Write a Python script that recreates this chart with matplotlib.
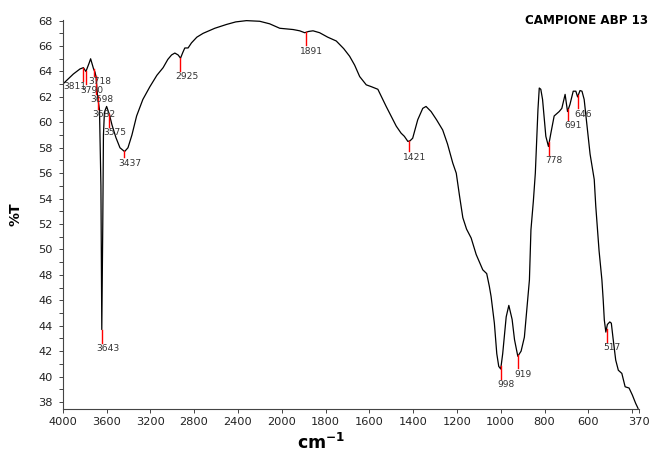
import numpy as np
import matplotlib
matplotlib.use("Agg")
import matplotlib.pyplot as plt
from matplotlib import font_manager
from matplotlib.ticker import MultipleLocator, FixedLocator

# spectrum: wavenumber (cm-1) and %T
wn = [4000, 3903, 3842, 3811, 3788, 3757, 3745, 3726, 3718, 3705, 3696, 3681,
      3664, 3651, 3643, 3634, 3628, 3619, 3599, 3573, 3550, 3514, 3477, 3435,
      3404, 3368, 3325, 3268, 3204, 3140, 3083, 3040, 3006, 2976, 2946, 2924,
      2903, 2885, 2855, 2824, 2775, 2718, 2611, 2504, 2420, 2322, 2201, 2110,
      2018, 1977, 1948, 1918, 1895, 1877, 1857, 1827, 1790, 1751, 1717, 1690,
      1667, 1644, 1614, 1590, 1561, 1523, 1477, 1455, 1440, 1424, 1414, 1402,
      1379, 1356, 1341, 1318, 1293, 1265, 1243, 1219, 1203, 1188, 1173, 1156,
      1135, 1112, 1082, 1064, 1052, 1044, 1029, 1018, 1009, 1000, 991, 975,
      963, 948, 937, 922, 907, 892, 877, 869, 862, 851, 842, 836, 830, 824,
      817, 809, 801, 794, 782, 771, 756, 733, 721, 706, 695, 684, 669, 657,
      649, 638, 629, 619, 604, 592, 573, 566, 551, 538, 532, 527, 520, 513,
      502, 495, 487, 475, 463, 447, 432, 414, 399, 384, 373]
trans = [63.0, 63.8, 64.2, 64.3, 64.0, 64.7, 65.0, 64.45, 64.2, 63.95, 63.6, 62.0,
         61.0, 55.0, 43.7, 52.0, 59.0, 60.8, 61.25, 60.6, 59.8, 58.8, 58.0, 57.7,
         58.0, 59.0, 60.5, 61.8, 62.8, 63.7, 64.3, 64.95, 65.3, 65.45, 65.3, 65.05,
         65.5, 65.85, 65.85, 66.25, 66.7, 67.0, 67.4, 67.7, 67.9, 68.0, 67.95, 67.75,
         67.4, 67.35, 67.3, 67.2, 67.05, 67.15, 67.2, 67.05, 66.7, 66.4, 65.8, 65.2,
         64.5, 63.6, 62.95, 62.8, 62.6, 61.25, 59.7, 59.15, 58.9, 58.5, 58.55, 58.75,
         60.2, 61.1, 61.25, 60.85, 60.2, 59.4, 58.3, 56.8, 56.0, 54.2, 52.5, 51.6,
         50.9, 49.6, 48.4, 48.1, 47.1, 46.3, 44.2, 41.8, 40.8, 40.6, 41.8, 44.7,
         45.6, 44.5, 42.9, 41.6, 42.0, 43.1, 46.0, 47.6, 51.55, 53.8, 56.0, 58.6, 61.0, 62.7,
         62.6, 61.8, 60.2, 58.9, 58.1, 59.15, 60.5, 60.85, 61.1, 62.2, 60.85, 61.4, 62.45, 62.45,
         62.0, 62.5, 62.45, 61.8, 59.4, 57.5, 55.5, 53.4, 49.9, 47.6, 46.0, 44.45, 43.5, 44.1,
         44.3, 44.2, 43.0, 41.3, 40.5, 40.25, 39.2, 39.1, 38.55, 37.9, 37.5]

# marked bands
peaks = [3811, 3790, 3718, 3698, 3682, 3643, 3575, 3437, 2925, 1891, 1421,
         998, 919, 778, 691, 646, 517]

xticks = [4000, 3600, 3200, 2800, 2400, 2000, 1800, 1600, 1400, 1200, 1000,
          800, 600, 400, 370]
xticklabels = ["4000", "3600", "3200", "2800", "2400", "2000", "1800", "1600",
               "1400", "1200", "1000", "800", "600", "", "370"]


# scale is compressed by 2 above 2000 cm-1
def fwd(x):
    x = np.asarray(x, dtype=float)
    return np.where(x > 2000, 2000 + (x - 2000) / 2, x)


def inv(t):
    t = np.asarray(t, dtype=float)
    return np.where(t > 2000, 2000 + (t - 2000) * 2, t)


# narrow bold font for the title if there is one
installed = {f.name for f in font_manager.fontManager.ttflist}
if "Liberation Sans Narrow" in installed:
    title_font, title_size = "Liberation Sans Narrow", 11.5
elif "DejaVu Sans Condensed" in installed:
    title_font, title_size = "DejaVu Sans Condensed", 9.6
else:
    title_font, title_size = "DejaVu Sans", 8.6

fig = plt.figure(figsize=(6.54, 4.49), dpi=100)
ax = fig.add_axes([62.7 / 654, 40 / 449, 576 / 654, 389 / 449])
ax.set_xscale("function", functions=(fwd, inv))

ax.plot(wn, trans, color="black", lw=0.9)

# red markers + labels
wn_sorted = np.array(wn[::-1])
tr_sorted = np.array(trans[::-1])
line_len = {3718: 7, 3437: 6, 3698: 18, 1421: 10, 691: 11}   # px
text_dx = {3811: -9}  # px
for p in peaks:
    ytop = np.interp(p, wn_sorted, tr_sorted)
    L = line_len.get(p, 13) / 12.7
    ax.plot([p, p], [ytop, ytop - L], color="red", lw=1)
    dx = text_dx.get(p, 5 if p < 1000 else 6) / 1.389
    ax.annotate(str(p), (p, ytop - L), xytext=(dx, -1), textcoords="offset points",
                ha="center", va="top", fontsize=6.6, color="#333333")

ax.set_xlim(4000, 370)
ax.set_ylim(37.45, 68.05)
ax.xaxis.set_major_locator(FixedLocator(xticks))
ax.set_xticklabels(xticklabels)
ax.xaxis.set_minor_locator(FixedLocator([]))
ax.yaxis.set_major_locator(MultipleLocator(2))
ax.yaxis.set_minor_locator(MultipleLocator(1))
ax.tick_params(axis="both", which="both", length=3, width=0.7, color="#444444",
               labelsize=8.2, labelcolor="#222222", pad=3)
ax.tick_params(axis="y", which="major", pad=4)

for s in ["top", "right"]:
    ax.spines[s].set_visible(False)
for s in ["left", "bottom"]:
    ax.spines[s].set_color("#444444")
    ax.spines[s].set_linewidth(0.8)

ax.set_xlabel(r"$\mathbf{cm^{-1}}$", fontsize=12.5)
ax.xaxis.set_label_coords((321 - 62.7) / 576, -24 / 389)
ax.set_ylabel("%T", fontsize=10, fontweight="bold")
ax.yaxis.set_label_coords(-40 / 576, 0.5)

fig.text(648 / 654, 1 - 20.5 / 449, "CAMPIONE ABP 13", ha="right", va="center",
         fontsize=title_size, fontweight="bold", family=title_font)

fig.savefig("out.png", dpi=100)
